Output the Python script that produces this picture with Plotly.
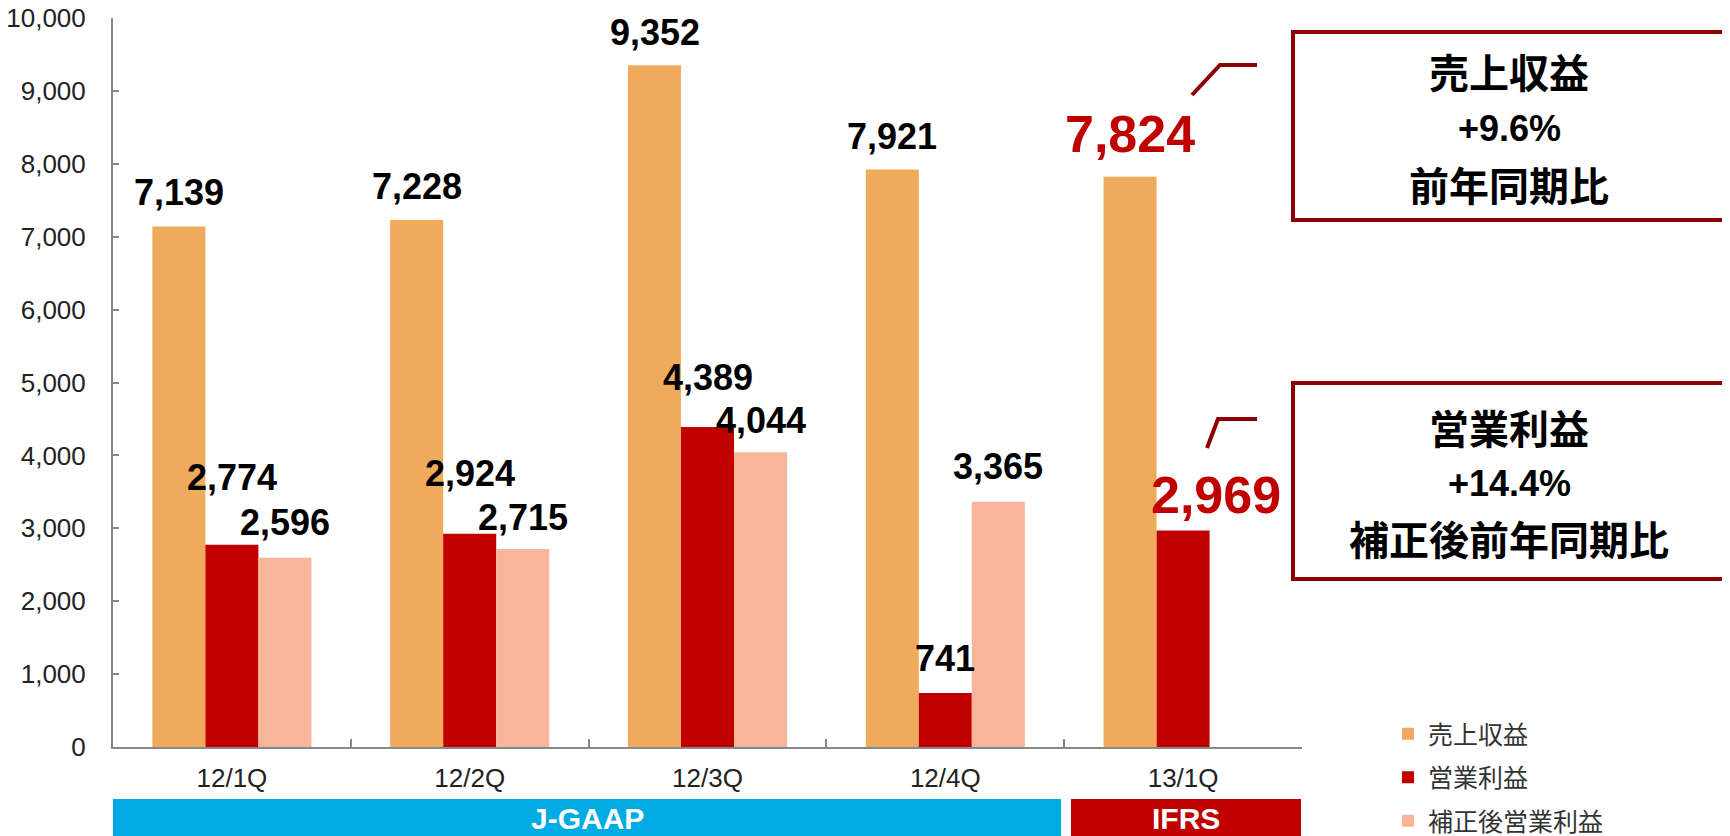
import plotly.graph_objects as go

categories = ["12/1Q", "12/2Q", "12/3Q", "12/4Q", "13/1Q"]
revenue = [7139, 7228, 9352, 7921, 7824]
op_profit = [2774, 2924, 4389, 741, 2969]
adj_op_profit = [2596, 2715, 4044, 3365, None]
series_names = ["売上収益", "営業利益", "補正後営業利益"]
y_ticks = [0, 1000, 2000, 3000, 4000, 5000, 6000, 7000, 8000, 9000, 10000]

colors = ["#F0AA5B", "#C00000", "#F9B599"]
DARKRED = "#8E0000"

# page body margin shifts the figure; geometry below is in screen pixels
OFF = 8
W_FIG, H_FIG = 1730, 836
L, R, T, B = 113, 1302, 18, 747
PW, PH = R - L, B - T


def px(x):
    return (x - L) / PW


def py(y):
    return (B - y) / PH


fig = go.Figure()
series = [revenue, op_profit, adj_op_profit]
for i, (name, vals) in enumerate(zip(series_names, series)):
    fig.add_trace(go.Bar(
        x=categories, y=vals, name=name,
        marker=dict(color=colors[i], line=dict(width=0)),
        legendgroup=f"g{i}",
    ))

# data labels (annotations positioned on data coords)
BAR_W = 53
label_lift = [
    [34, 34, 33, 33, 43],
    [67, 60, 50, 34, 36],
    [35, 32, 32, 35, 0],
]
extra_x = [
    [0, 0, 0, 0, 0],
    [0, 0, 0, 0, 33],
    [0, 0, 0, 0, 0],
]
annotations = []
for i, vals in enumerate(series):
    for j, v in enumerate(vals):
        if v is None:
            continue
        highlight = (categories[j] == "13/1Q")
        annotations.append(dict(
            x=categories[j], y=v, xref="x", yref="y",
            text=f"<b>{v:,}</b>", showarrow=False,
            xanchor="center", yanchor="middle",
            xshift=(i - 1) * BAR_W + extra_x[i][j],
            yshift=label_lift[i][j],
            font=dict(family="Liberation Sans, Arial", size=52 if highlight else 36,
                      color="#C00000" if highlight else "#000000"),
        ))

shapes = []
# callout lines
for (x0, y0), (x1, y1), (x2, y2) in [((1192, 95), (1220, 65), (1257, 65)),
                                      ((1207, 448), (1218, 419), (1257, 419))]:
    shapes.append(dict(type="path", xref="paper", yref="paper",
                       path=f"M{px(x0)},{py(y0)} L{px(x1)},{py(y1)} L{px(x2)},{py(y2)}",
                       line=dict(color=DARKRED, width=4)))
# boxes
for (y0, y1) in [(32, 220), (383, 579)]:
    shapes.append(dict(type="rect", xref="paper", yref="paper",
                       x0=px(1293), x1=px(1725), y0=py(y1), y1=py(y0),
                       line=dict(color=DARKRED, width=4), fillcolor="white"))
# accounting standard bands
shapes.append(dict(type="rect", xref="paper", yref="paper",
                   x0=px(113), x1=px(1061), y0=py(850), y1=py(799),
                   line=dict(width=0), fillcolor="#00ABE3"))
shapes.append(dict(type="rect", xref="paper", yref="paper",
                   x0=px(1071), x1=px(1301), y0=py(850), y1=py(799),
                   line=dict(width=0), fillcolor="#C00000"))

CJK = "Noto Sans CJK JP"
LAT = "Liberation Sans, Arial"
box_texts = [
    ("<b>売上収益</b>", 71, CJK, 40),
    ("<b>+9.6%</b>", 128, LAT, 36),
    ("<b>前年同期比</b>", 184, CJK, 40),
    ("<b>営業利益</b>", 427, CJK, 40),
    ("<b>+14.4%</b>", 483, LAT, 36),
    ("<b>補正後前年同期比</b>", 538, CJK, 40),
]
for txt, yc, fam, sz in box_texts:
    annotations.append(dict(x=px(1509), y=py(yc), xref="paper", yref="paper",
                            text=txt, showarrow=False, xanchor="center", yanchor="middle",
                            font=dict(family=fam, size=sz, color="#000000")))
for txt, xc in [("<b>J-GAAP</b>", 587), ("<b>IFRS</b>", 1186)]:
    annotations.append(dict(x=px(xc), y=py(818), xref="paper", yref="paper",
                            text=txt, showarrow=False, xanchor="center", yanchor="middle",
                            font=dict(family=LAT, size=30, color="#FFFFFF")))

fig.update_layout(
    template="none",
    width=W_FIG, height=H_FIG,
    margin=dict(l=L - OFF, r=W_FIG - (R - OFF), t=T - OFF, b=H_FIG - (B - OFF),
                pad=0, autoexpand=False),
    paper_bgcolor="white", plot_bgcolor="white",
    barmode="group", bargap=0.331, bargroupgap=0,
    showlegend=True,
    legend=dict(xref="container", yref="container",
                x=(1388 - OFF) / W_FIG, y=1 - (711 - OFF) / H_FIG,
                xanchor="left", yanchor="top",
                font=dict(family=CJK, size=25, color="#333333"),
                tracegroupgap=8, bgcolor="rgba(0,0,0,0)", borderwidth=0),
    shapes=shapes, annotations=annotations,
    font=dict(family=LAT, size=26, color="#222222"),
)
fig.update_xaxes(
    automargin=False,
    showline=True, linecolor="#888888", linewidth=2,
    ticks="inside", tickson="boundaries", ticklen=8, tickcolor="#888888", tickwidth=1.5,
    tickfont=dict(family=LAT, size=26, color="#222222"), ticklabelstandoff=7,
    showgrid=False, zeroline=False,
)
fig.update_yaxes(
    automargin=False,
    range=[0, 10000], tickvals=y_ticks, tickformat=",",
    showline=True, linecolor="#888888", linewidth=2,
    ticks="inside", ticklen=6, tickcolor="#888888", tickwidth=1.5,
    tickfont=dict(family=LAT, size=26, color="#222222"), ticklabelstandoff=20,
    ticklabeloverflow="allow",
    showgrid=False, zeroline=False,
)

fig.write_html("out.html")
